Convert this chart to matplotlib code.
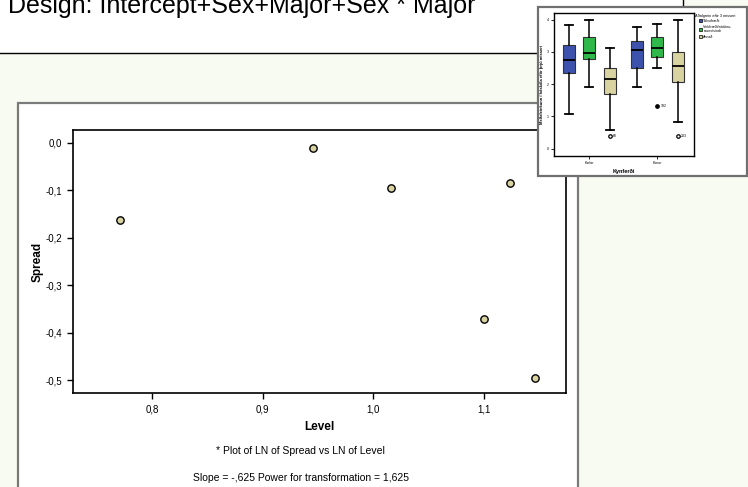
import matplotlib
matplotlib.use('Agg')
import matplotlib.pyplot as plt
from matplotlib.patches import Rectangle, Patch

plt.rcParams['font.family'] = ['Liberation Sans', 'DejaVu Sans']

# spread vs level points (LN of level, LN of spread)
level = [0.771, 0.945, 1.016, 1.123, 1.100, 1.146]
spread = [-0.163, -0.011, -0.095, -0.084, -0.372, -0.495]
x_ticks = [0.8, 0.9, 1.0, 1.1]
x_tick_labels = ['0,8', '0,9', '1,0', '1,1']
y_ticks = [0.0, -0.1, -0.2, -0.3, -0.4, -0.5]
y_tick_labels = ['0,0', '-0,1', '-0,2', '-0,3', '-0,4', '-0,5']

# boxplot in the pasted thumbnail
groups = ['Karlar', 'Konur']
majors = ['Tölvufræði', 'Verkfræði/náttúru-\nraunvísindi', 'Annað']
box_whislo = [1.06, 1.92, 0.57, 1.92, 2.50, 0.84]
box_q1 = [2.34, 2.79, 1.71, 2.49, 2.84, 2.07]
box_med = [2.75, 2.98, 2.16, 3.06, 3.13, 2.55]
box_q3 = [3.22, 3.48, 2.49, 3.33, 3.45, 3.01]
box_whishi = [3.85, 3.98, 3.13, 3.79, 3.88, 3.98]
box_fliers = [[], [], [0.39], [], [1.31], [0.39]]
flier_labels = ['', '', '60', '', '182', '203']

W, H = 748, 487
BG = '#f8fbf1'
TAN = '#d8d3a0'
box_colors = ['#3d52ad', '#2fb94b', TAN]


def fr(x0, y0, x1, y1):
    # pixel box (top-left origin) -> figure fraction rect
    return [x0 / W, 1 - y1 / H, (x1 - x0) / W, (y1 - y0) / H]


fig = plt.figure(figsize=(W / 100, H / 100), dpi=100)
fig.patch.set_facecolor(BG)

# page header area
r = fr(-5, -5, 683, 53)
fig.add_artist(Rectangle((r[0], r[1]), r[2], r[3], transform=fig.transFigure,
                         facecolor='white', edgecolor='black', lw=1, zorder=-3))
fig.text(8 / W, 1 - 12.5 / H, 'Design: Intercept+Sex+Major+Sex * Major',
         fontsize=18, va='baseline', ha='left')

# chart frame
r = fr(18, 103, 578, 495)
fig.add_artist(Rectangle((r[0], r[1]), r[2], r[3], transform=fig.transFigure,
                         facecolor='white', edgecolor='#7a7a7a', lw=1.6, zorder=-2))

ax = fig.add_axes(fr(73, 130, 566, 393))
ax.scatter(level, spread, s=28, c=TAN, edgecolors='black', linewidths=1, zorder=3)
ax.set_xlim(0.7286, 1.174)
ax.set_ylim(-0.5267, 0.0267)
ax.set_xticks(x_ticks)
ax.set_xticklabels(x_tick_labels)
ax.set_yticks(y_ticks)
ax.set_yticklabels(y_tick_labels)
ax.tick_params(direction='out', length=4, width=1, labelsize=7, pad=4)
for s in ax.spines.values():
    s.set_linewidth(1.2)
ax.set_xlabel('Level', fontsize=8.5, fontweight='bold', labelpad=5)
ax.set_ylabel('Spread', fontsize=8.5, fontweight='bold', labelpad=1)

fig.text(300 / W, 1 - 451 / H, '* Plot of LN of Spread vs LN of Level',
         fontsize=7.5, ha='center', va='center')
fig.text(301 / W, 1 - 478 / H, 'Slope = -,625 Power for transformation = 1,625',
         fontsize=7.5, ha='center', va='center')

# thumbnail of the boxplot
r = fr(538, 7, 747, 176)
fig.add_artist(Rectangle((r[0], r[1]), r[2], r[3], transform=fig.transFigure,
                         facecolor='white', edgecolor='#707070', lw=1.6, zorder=5))

bx = fig.add_axes(fr(554, 13, 694, 156), zorder=6)
positions = [-0.3, 0.0, 0.3, 0.7, 1.0, 1.3]
stats = []
for i in range(6):
    stats.append({'whislo': box_whislo[i], 'q1': box_q1[i], 'med': box_med[i],
                  'q3': box_q3[i], 'whishi': box_whishi[i], 'fliers': box_fliers[i]})
res = bx.bxp(stats, positions=positions, widths=0.18, patch_artist=True,
             boxprops=dict(lw=0.8, edgecolor='#333333'),
             medianprops=dict(color='black', lw=1.3),
             whiskerprops=dict(color='black', lw=1.1),
             capprops=dict(color='black', lw=1.3),
             capwidths=0.12,
             flierprops=dict(marker='o', ms=2.5, mfc='white', mec='black', mew=0.9))
for i, b in enumerate(res['boxes']):
    b.set_facecolor(box_colors[i % 3])
res['fliers'][4].set_markerfacecolor('black')
for i in range(6):
    for v in box_fliers[i]:
        bx.text(positions[i] + 0.05, v, flier_labels[i], fontsize=2.5, va='center')
bx.set_xlim(-0.52, 1.54)
bx.set_ylim(-0.23, 4.21)
bx.set_xticks([0, 1])
bx.set_xticklabels(groups)
bx.set_yticks([0, 1, 2, 3, 4])
bx.tick_params(length=2, width=0.6, labelsize=2.5, pad=1.5)
for s in bx.spines.values():
    s.set_linewidth(1)
bx.set_xlabel('Kynferði', fontsize=4, fontweight='bold', labelpad=3)
bx.set_ylabel('Meðaleinkunn í háskóla eftir þrjú misseri', fontsize=3, fontweight='bold', labelpad=2)
handles = [Patch(facecolor=c, edgecolor='black', lw=0.5) for c in box_colors]
bx.legend(handles, majors, title='Aðalgrein eftir 3 misseri', loc='upper left',
          bbox_to_anchor=(1.005, 1.0), fontsize=2.6, title_fontsize=2.8, frameon=False,
          handlelength=0.9, handleheight=0.9, handletextpad=0.4, borderaxespad=0.1,
          labelspacing=0.4, borderpad=0.1)

fig.savefig('out.png', dpi=100, facecolor=BG)
